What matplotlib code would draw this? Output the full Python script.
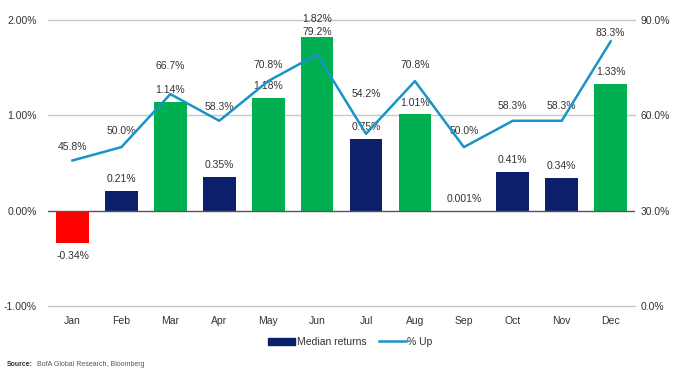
import matplotlib.pyplot as plt
import numpy as np
from matplotlib.lines import Line2D
from matplotlib.patches import Patch

months = ['Jan', 'Feb', 'Mar', 'Apr', 'May', 'Jun',
          'Jul', 'Aug', 'Sep', 'Oct', 'Nov', 'Dec']
median_returns = [-0.34, 0.21, 1.14, 0.35, 1.18, 1.82,
                  0.75, 1.01, 0.001, 0.41, 0.34, 1.33]
bar_labels = ['-0.34%', '0.21%', '1.14%', '0.35%', '1.18%', '1.82%',
              '0.75%', '1.01%', '0.001%', '0.41%', '0.34%', '1.33%']
pct_up = [45.8, 50.0, 66.7, 58.3, 70.8, 79.2,
          54.2, 70.8, 50.0, 58.3, 58.3, 83.3]
bar_kind = ['neg', 'small', 'big', 'small', 'big', 'big',
            'small', 'big', 'small', 'small', 'small', 'big']

# label offsets (points) so the two label rows clear each other
bar_offsets = [-9, 8.5, 8.5, 8.5, 8.5, 13, 8.5, 8.5, 8.5, 8.5, 8.5, 8.5]
up_offsets = [10, 11.5, 20, 10, 11.5, 16, 29, 11.5, 11.5, 11, 11, 6]

NAVY = '#0b1f6b'
GREEN = '#00b050'
RED = '#ff0000'
LINE = '#1a93c6'
TXT = '#333333'
kind_colors = {'neg': RED, 'small': NAVY, 'big': GREEN}

plt.rcParams['font.family'] = ['Liberation Sans', 'DejaVu Sans']

fig = plt.figure(figsize=(6.8, 3.73), dpi=100)
ax = fig.add_axes([0.0706, 0.18, 0.8634, 0.766])
ax2 = ax.twinx()

x = np.arange(len(months))
colors = [kind_colors[k] for k in bar_kind]

ax.set_ylim(-1, 2)
ax.set_xlim(-0.5, len(months) - 0.5)
ax.set_yticks([-1, 0, 1, 2])
ax.set_yticklabels(['-1.00%', '0.00%', '1.00%', '2.00%'])
for yv in [-1, 1, 2]:
    ax.axhline(yv, color='#c8c8c8', lw=1, zorder=0, clip_on=False)
ax.axhline(0, color='#555555', lw=1, zorder=3)

ax.bar(x, median_returns, width=0.67, color=colors, zorder=2)

for xi, v, lab, off in zip(x, median_returns, bar_labels, bar_offsets):
    ax.annotate(lab, (xi, v), xytext=(0, off), textcoords='offset points',
                ha='center', va='center', fontsize=7.5, color=TXT, zorder=5)

ax2.set_ylim(0, 90)
ax2.set_yticks([0, 30, 60, 90])
ax2.set_yticklabels(['0.0%', '30.0%', '60.0%', '90.0%'])
ax2.plot(x, pct_up, color=LINE, lw=1.8, zorder=4)
for xi, v, off in zip(x, pct_up, up_offsets):
    ax2.annotate(f'{v:.1f}%', (xi, v), xytext=(0, off), textcoords='offset points',
                 ha='center', va='center', fontsize=7.5, color=TXT)

ax.set_xticks(x)
ax.set_xticklabels(months)
for a in (ax, ax2):
    for s in a.spines.values():
        s.set_visible(False)
    a.tick_params(length=0, labelsize=7.5, colors=TXT)
ax.tick_params(axis='y', pad=8)
ax.tick_params(axis='x', pad=7)
ax2.tick_params(axis='y', pad=4)

handles = [Patch(facecolor=NAVY, edgecolor=NAVY),
           Line2D([0], [0], color=LINE, lw=1.8)]
fig.legend(handles, ['Median returns', '% Up'], loc='center',
           bbox_to_anchor=(0.515, 0.083), ncol=2, frameon=False,
           fontsize=7.5, handlelength=2.6, handleheight=0.7,
           columnspacing=1.2, handletextpad=0.15, labelcolor=TXT)

fig.text(0.01, 0.02, 'Source:', fontsize=5, fontweight='bold', color=TXT)
fig.text(0.055, 0.02, 'BofA Global Research, Bloomberg', fontsize=5, color='#555555')

fig.savefig('out.png', dpi=100)
